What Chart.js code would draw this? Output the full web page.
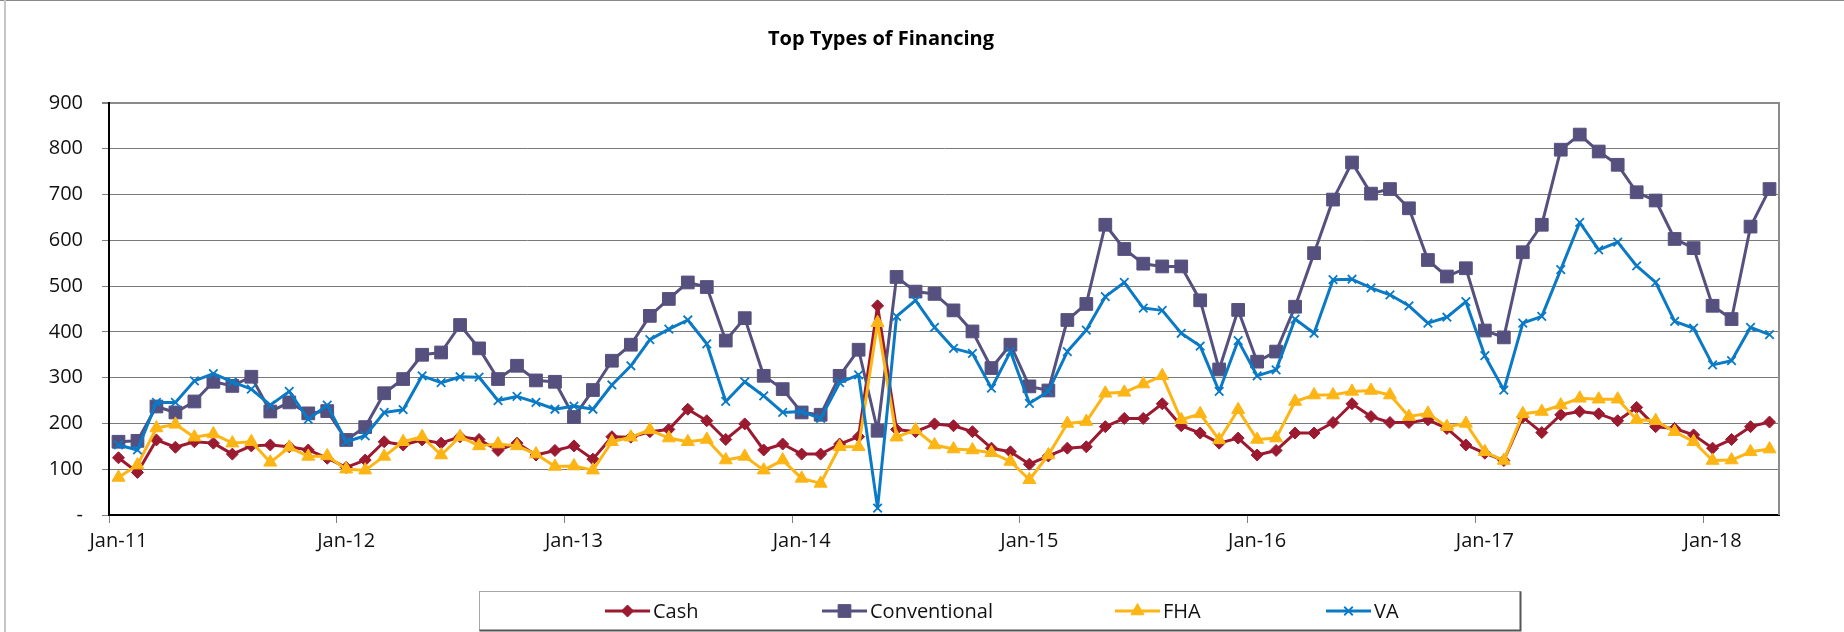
<!DOCTYPE html>
<html>
<head>
<meta charset="utf-8">
<title>Top Types of Financing</title>
<script src="https://cdn.jsdelivr.net/npm/chart.js@4.4.1/dist/chart.umd.min.js"></script>
<style>
  html, body { margin: 0; padding: 0; background: #ffffff; }
  canvas { display: block; }
</style>
</head>
<body>
<canvas id="c" width="1844" height="632"></canvas>
<script>
// ---------- data ----------
const TITLE = 'Top Types of Financing';
const monthNames = ['Jan','Feb','Mar','Apr','May','Jun','Jul','Aug','Sep','Oct','Nov','Dec'];
const yearSuffixes = ['11','12','13','14','15','16','17','18'];
const monthsInLastYear = 4; // Jan-18 .. Apr-18

const categories = [];
yearSuffixes.forEach((yy, yi) => {
  const n = yi === yearSuffixes.length - 1 ? monthsInLastYear : 12;
  for (let m = 0; m < n; m++) categories.push(monthNames[m] + '-' + yy);
});

const cash = [125,93,164,148,160,157,133,151,153,149,142,124,
  104,120,160,153,164,157,171,165,141,157,131,141,
  151,122,171,170,182,187,231,206,165,199,142,155,
  133,133,155,171,457,187,182,199,195,182,146,138,
  111,129,146,149,193,211,211,243,195,179,157,168,
  131,141,179,179,202,243,215,202,202,208,189,153,
  135,119,214,180,219,226,221,206,235,193,189,175,
  146,165,193,203];

const conventional = [160,162,237,224,248,291,282,302,226,246,222,227,
  164,192,266,297,350,355,415,364,297,326,294,291,
  214,273,337,372,435,472,508,498,381,430,304,275,
  224,219,304,361,184,520,488,483,447,401,321,372,
  281,272,426,461,634,581,549,543,543,469,318,448,
  335,357,455,572,689,770,702,712,670,557,521,539,
  403,388,574,634,798,831,794,765,705,687,603,583,
  457,428,630,712];

const fha = [82,109,190,198,170,177,157,160,115,148,128,129,
  100,98,128,160,171,131,171,151,155,151,133,106,
  107,98,160,170,186,168,160,165,120,128,98,120,
  80,69,149,149,420,170,186,153,144,142,136,117,
  77,131,200,204,266,268,286,304,208,221,164,230,
  165,168,248,262,262,270,272,262,215,222,193,200,
  138,119,221,226,240,255,253,253,208,206,182,160,
  119,120,138,144];

const va = [153,142,246,246,293,309,291,275,240,270,209,240,
  160,173,224,230,304,289,302,301,250,259,246,231,
  238,231,284,326,383,406,426,374,248,291,260,224,
  226,211,289,306,15,434,469,410,364,353,277,357,
  244,270,357,404,477,508,452,447,397,369,270,381,
  304,317,428,397,514,515,496,481,457,419,432,466,
  348,273,419,434,536,639,579,596,544,508,423,408,
  328,337,410,394];

const seriesNames = ['Cash','Conventional','FHA','VA'];
const yTicks = [0,100,200,300,400,500,600,700,800,900];

// ---------- styling ----------
const FONT = '"Open Sans", "Noto Sans", "Liberation Sans", sans-serif';
const COLORS = { Cash: '#9c1a30', Conventional: '#56507f', FHA: '#fdb515', VA: '#0a7ac6' };

function ds(label, data, style, radius, order, pbw) {
  const c = COLORS[label];
  return {
    label, data,
    borderColor: c, backgroundColor: c,
    pointBackgroundColor: c, pointBorderColor: c,
    pointStyle: style, pointRadius: radius, pointHoverRadius: radius,
    pointBorderWidth: pbw, borderWidth: 3, tension: 0,
    borderJoinStyle: 'round', order
  };
}

const datasets = [
  ds(seriesNames[0], cash, 'rectRot', 6, 4, 1),
  ds(seriesNames[1], conventional, 'rect', 9, 3, 1),
  ds(seriesNames[2], fha, 'triangle', 7.5, 2, 1),
  ds(seriesNames[3], va, 'crossRot', 6, 1, 1.8)
];

function drawMarker(ctx, style, x, y, r, color, lw) {
  ctx.save();
  ctx.fillStyle = color; ctx.strokeStyle = color; ctx.lineWidth = lw;
  ctx.beginPath();
  if (style === 'rectRot') {
    ctx.moveTo(x, y - r); ctx.lineTo(x + r, y); ctx.lineTo(x, y + r); ctx.lineTo(x - r, y); ctx.closePath();
    ctx.fill(); ctx.stroke();
  } else if (style === 'rect') {
    const s = Math.SQRT1_2 * r;
    ctx.rect(x - s, y - s, 2 * s, 2 * s); ctx.fill(); ctx.stroke();
  } else if (style === 'triangle') {
    const w = r * Math.sqrt(3);
    ctx.moveTo(x, y - r); ctx.lineTo(x + w / 2, y + r / 2); ctx.lineTo(x - w / 2, y + r / 2); ctx.closePath();
    ctx.fill(); ctx.stroke();
  } else if (style === 'crossRot') {
    const s = Math.SQRT1_2 * r;
    ctx.moveTo(x - s, y - s); ctx.lineTo(x + s, y + s);
    ctx.moveTo(x + s, y - s); ctx.lineTo(x - s, y + s); ctx.stroke();
  }
  ctx.restore();
}

const decorPlugin = {
  id: 'decor',
  beforeDraw(chart) {
    const { ctx, width, height } = chart;
    ctx.save();
    ctx.fillStyle = '#ffffff'; ctx.fillRect(0, 0, width, height);
    ctx.fillStyle = '#8a8a8a'; ctx.fillRect(0, 0, width, 1);
    ctx.fillStyle = '#c6c6c6'; ctx.fillRect(4, 0, 2, height);
    ctx.restore();
  },
  beforeDatasetsDraw(chart) {
    const { ctx, chartArea } = chart;
    ctx.save();
    ctx.fillStyle = '#8c8c8c';
    ctx.fillRect(Math.round(chartArea.right) - 1, Math.round(chartArea.top) - 1, 2, chartArea.bottom - chartArea.top + 1);
    ctx.restore();
  },
  afterDraw(chart) {
    const { ctx } = chart;
    ctx.save();
    // title
    ctx.font = 'bold 20px ' + FONT;
    ctx.fillStyle = '#000'; ctx.textAlign = 'center'; ctx.textBaseline = 'middle';
    ctx.fillText(TITLE, 881, 39);
    // legend box
    const bx = 479.5, by = 591.5, bw = 1041, bh = 39;
    ctx.strokeStyle = '#a8a8a8'; ctx.lineWidth = 1;
    ctx.strokeRect(bx, by, bw, bh);
    ctx.strokeStyle = '#555555'; ctx.lineWidth = 2;
    ctx.beginPath(); ctx.moveTo(bx, by + bh); ctx.lineTo(bx + bw, by + bh); ctx.lineTo(bx + bw, by); ctx.stroke();
    const starts = [605, 822, 1115, 1326];
    const ly = 611;
    ctx.font = '20px ' + FONT; ctx.textAlign = 'left'; ctx.textBaseline = 'middle';
    chart.data.datasets.forEach((d, i) => {
      const x0 = starts[i];
      ctx.strokeStyle = d.borderColor; ctx.lineWidth = 3;
      ctx.beginPath(); ctx.moveTo(x0, ly); ctx.lineTo(x0 + 45, ly); ctx.stroke();
      drawMarker(ctx, d.pointStyle, x0 + 22.5, ly, d.pointRadius, d.borderColor, d.pointBorderWidth);
      ctx.fillStyle = '#111';
      ctx.fillText(d.label, x0 + 48, ly + 1);
    });
    ctx.restore();
  }
};

new Chart(document.getElementById('c'), {
  type: 'line',
  data: { labels: categories, datasets },
  plugins: [decorPlugin],
  options: {
    responsive: false,
    animation: false,
    events: [],
    layout: { padding: { left: 0, right: 65, top: 103, bottom: 0 } },
    plugins: { legend: { display: false }, title: { display: false }, tooltip: { enabled: false } },
    scales: {
      x: {
        type: 'category',
        offset: true,
        grid: {
          offset: true, drawOnChartArea: false, drawTicks: true, tickLength: 8,
          color: (c) => (c.index % 12 === 0 ? '#808080' : 'rgba(0,0,0,0)'), lineWidth: 1
        },
        border: { color: '#000', width: 2 },
        ticks: {
          autoSkip: false, maxRotation: 0, minRotation: 0, padding: 6, color: '#111',
          font: { family: FONT, size: 20 },
          callback: function (v, i) { return i % 12 === 0 ? this.getLabelForValue(v) : ''; }
        },
        afterFit: (s) => { s.height = 117; }
      },
      y: {
        min: yTicks[0], max: yTicks[yTicks.length - 1],
        afterBuildTicks: (s) => { s.ticks = yTicks.map(v => ({ value: v })); },
        ticks: {
          padding: 19, color: '#111', font: { family: FONT, size: 20 },
          callback: (v) => (v === 0 ? '-' : String(v))
        },
        grid: {
          color: (c) => (c.tick && c.tick.value === 900 ? '#8a8a8a' : '#7a7a7a'),
          lineWidth: (c) => (c.tick && c.tick.value === 900 ? 2 : 1),
          tickLength: 7, tickColor: '#808080'
        },
        border: { color: '#000', width: 2 },
        afterFit: (s) => { s.width = 109; }
      }
    }
  }
});
</script>
</body>
</html>
